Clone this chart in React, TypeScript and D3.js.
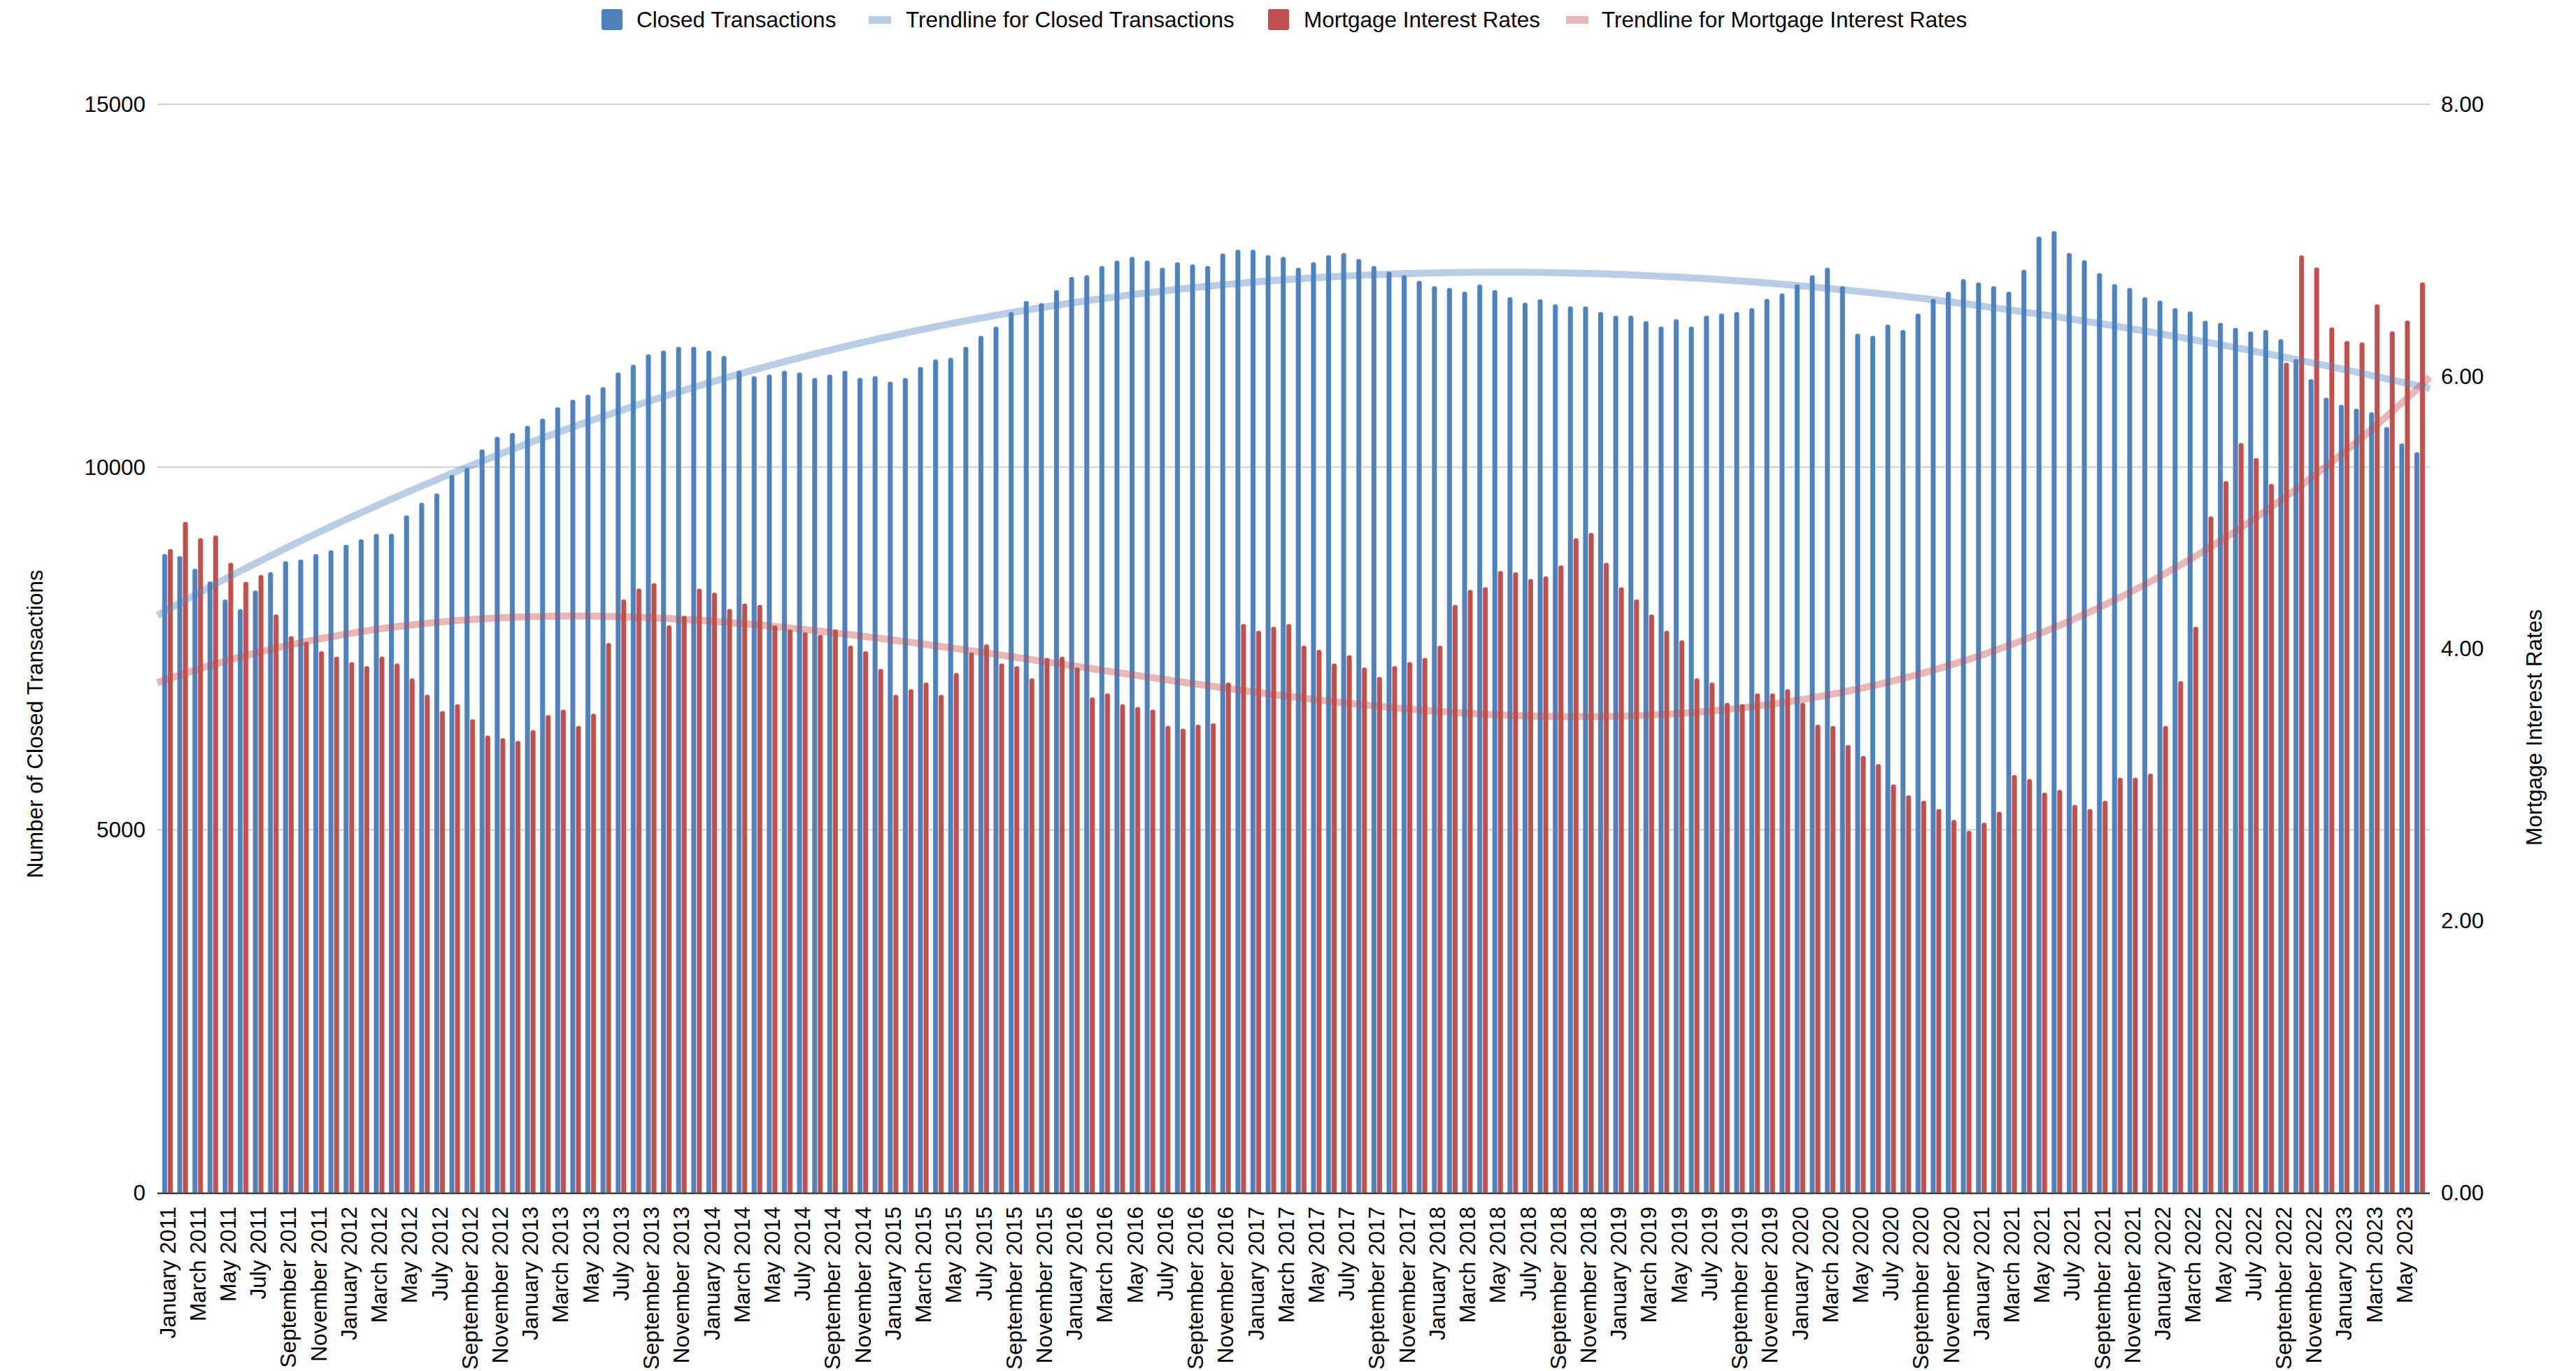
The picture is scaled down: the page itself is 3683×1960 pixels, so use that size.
import React from "react";
import * as d3 from "d3";

// ---------- DATA ----------
const months: string[] = d3
  .timeMonths(new Date(2011, 0, 1), new Date(2023, 6, 1))
  .map((d) => d3.timeFormat("%B %Y")(d));

const closedTransactions: number[] = [
  8801, 8772, 8598, 8424, 8175, 8042, 8297, 8551, 8702, 8725, 8801, 8853,
  8928, 9003, 9079, 9079, 9334, 9508, 9635, 9890, 9988, 10243, 10417, 10469,
  10568, 10666, 10823, 10927, 10997, 11101, 11304, 11408, 11553, 11605, 11657, 11657,
  11605, 11530, 11327, 11252, 11275, 11327, 11304, 11228, 11275, 11327, 11228, 11252,
  11176, 11228, 11379, 11483, 11506, 11657, 11808, 11935, 12138, 12289, 12260, 12439,
  12619, 12642, 12770, 12845, 12897, 12845, 12746, 12822, 12793, 12770, 12943, 12995,
  12995, 12920, 12897, 12746, 12822, 12920, 12949, 12868, 12770, 12694, 12642, 12567,
  12491, 12468, 12416, 12515, 12439, 12341, 12265, 12312, 12242, 12213, 12213, 12138,
  12086, 12086, 12011, 11935, 12039, 11935, 12086, 12115, 12138, 12190, 12318, 12393,
  12515, 12642, 12746, 12491, 11837, 11808, 11964, 11889, 12115, 12318, 12416, 12590,
  12544, 12491, 12416, 12717, 13175, 13250, 12949, 12851, 12671, 12520, 12468, 12341,
  12294, 12190, 12144, 12016, 11987, 11918, 11866, 11889, 11761, 11489, 11211, 10956,
  10858, 10805, 10753, 10550, 10324, 10203,
];

const mortgageRates: number[] = [
  4.73, 4.93, 4.81, 4.83, 4.63, 4.49, 4.54, 4.25, 4.09, 4.05, 3.98, 3.94,
  3.9, 3.87, 3.94, 3.89, 3.78, 3.66, 3.54, 3.59, 3.48, 3.36, 3.34, 3.32,
  3.4, 3.51, 3.55, 3.43, 3.52, 4.04, 4.36, 4.44, 4.48, 4.17, 4.24, 4.44,
  4.41, 4.29, 4.33, 4.32, 4.17, 4.14, 4.12, 4.1, 4.14, 4.02, 3.98, 3.85,
  3.66, 3.7, 3.75, 3.66, 3.82, 3.97, 4.03, 3.89, 3.87, 3.78, 3.93, 3.94,
  3.86, 3.64, 3.67, 3.59, 3.57, 3.55, 3.43, 3.41, 3.44, 3.45, 3.75, 4.18,
  4.13, 4.16, 4.18, 4.02, 3.99, 3.89, 3.95, 3.86, 3.79, 3.87, 3.9, 3.93,
  4.02, 4.32, 4.43, 4.45, 4.57, 4.56, 4.51, 4.53, 4.61, 4.81, 4.85, 4.63,
  4.45, 4.36, 4.25, 4.13, 4.06, 3.78, 3.75, 3.6, 3.59, 3.67, 3.67, 3.7,
  3.6, 3.44, 3.43, 3.29, 3.21, 3.15, 3.0, 2.92, 2.88, 2.82, 2.74, 2.66,
  2.72, 2.8, 3.07, 3.04, 2.94, 2.96, 2.85, 2.82, 2.88, 3.05, 3.05, 3.08,
  3.43, 3.76, 4.16, 4.97, 5.23, 5.51, 5.4, 5.21, 6.1, 6.89, 6.8, 6.36,
  6.26, 6.25, 6.53, 6.33, 6.41, 6.69,
];

const leftTicks: number[] = [0, 5000, 10000, 15000];
const rightTicks: number[] = [0, 2, 4, 6, 8];

const legendItems = [
  { label: "Closed Transactions", kind: "bar", color: "#4F81BD" },
  { label: "Trendline for Closed Transactions", kind: "trend", color: "#4F81BD" },
  { label: "Mortgage Interest Rates", kind: "bar", color: "#C0504D" },
  { label: "Trendline for Mortgage Interest Rates", kind: "trend", color: "#C0504D" },
];

// ---------- HELPERS ----------
function polyfit(ys: number[], order: number) {
  const n = ys.length;
  const c = (n - 1) / 2;
  const m = order + 1;
  const A: number[][] = Array.from({ length: m }, () => new Array(m + 1).fill(0));
  for (let i = 0; i < n; i++) {
    const t = (i - c) / c;
    const pw: number[] = [];
    for (let k = 0; k < 2 * m; k++) pw.push(Math.pow(t, k));
    for (let r = 0; r < m; r++) {
      for (let s = 0; s < m; s++) A[r][s] += pw[r + s];
      A[r][m] += pw[r] * ys[i];
    }
  }
  for (let col = 0; col < m; col++) {
    let piv = col;
    for (let r = col + 1; r < m; r++)
      if (Math.abs(A[r][col]) > Math.abs(A[piv][col])) piv = r;
    const tmp = A[col];
    A[col] = A[piv];
    A[piv] = tmp;
    for (let r = 0; r < m; r++) {
      if (r === col) continue;
      const f = A[r][col] / A[col][col];
      for (let s = col; s <= m; s++) A[r][s] -= f * A[col][s];
    }
  }
  const coef = A.map((row, r) => row[m] / row[r]);
  return (i: number) => {
    const t = (i - c) / c;
    let v = 0;
    for (let k = 0; k < m; k++) v += coef[k] * Math.pow(t, k);
    return v;
  };
}

function topRoundedBar(x: number, y: number, w: number, h: number, r: number) {
  const rr = Math.min(r, w / 2, h);
  return `M${x},${y + h}V${y + rr}Q${x},${y} ${x + rr},${y}H${x + w - rr}Q${x + w},${y} ${x + w},${y + rr}V${y + h}Z`;
}

// ---------- CHART ----------
const W = 3683;
const H = 1960;
const plotLeft = 225;
const plotRight = 3474;
const plotTop = 149;
const plotBottom = 1705;
const FONT = "'Liberation Sans', Arial, Helvetica, sans-serif";
const FS = 31.5;

export default function App() {
  const n = months.length;
  const xBand = d3
    .scaleBand<number>()
    .domain(d3.range(n))
    .range([plotLeft, plotRight])
    .paddingInner(0)
    .paddingOuter(0.17);
  const cx = (i: number) => (xBand(i) as number) + xBand.bandwidth() / 2;
  const idxToX = d3.scaleLinear().domain([0, n - 1]).range([cx(0), cx(n - 1)]);

  const yLeft = d3.scaleLinear().domain([0, 15000]).range([plotBottom, plotTop]);
  const yRight = d3.scaleLinear().domain([0, 8]).range([plotBottom, plotTop]);

  const fitBlue = polyfit(closedTransactions, 3);
  const fitRed = polyfit(mortgageRates, 3);
  const iStart = idxToX.invert(plotLeft);
  const iEnd = idxToX.invert(plotRight);
  const samples = d3.range(iStart, iEnd, 0.25).concat([iEnd]);

  const blueTrend = d3
    .line<number>()
    .x((i) => idxToX(i))
    .y((i) => yLeft(fitBlue(i)))(samples);
  const redTrend = d3
    .line<number>()
    .x((i) => idxToX(i))
    .y((i) => yRight(fitRed(i)))(samples);

  const barW = 7.2;
  const gap = 0.4;

  const legendSwatchX = [860, 1242, 1813, 2239];
  const legendTextX = [910, 1295, 1864, 2290];

  return (
    <div style={{ position: "absolute", left: 0, top: 0, width: W, height: H, background: "#fff" }}>
      <svg width={W} height={H} viewBox={`0 0 ${W} ${H}`} style={{ display: "block" }} fontFamily={FONT}>
        <rect x={0} y={0} width={W} height={H} fill="#ffffff" />

        {/* gridlines */}
        {leftTicks
          .filter((t) => t > 0)
          .map((t) => (
            <line
              key={`g${t}`}
              x1={plotLeft}
              x2={plotRight}
              y1={yLeft(t)}
              y2={yLeft(t)}
              stroke="#cfcfcf"
              strokeWidth={2}
            />
          ))}

        {/* bars */}
        <g>
          {closedTransactions.map((v, i) => {
            const x = cx(i) - gap - barW;
            const y = yLeft(v);
            return (
              <path
                key={`b${i}`}
                d={topRoundedBar(x, y, barW, plotBottom - y, 3)}
                fill="#4F81BD"
                stroke="#c9d8ec"
                strokeOpacity={0.5}
                strokeWidth={0.8}
              />
            );
          })}
          {mortgageRates.map((v, i) => {
            const x = cx(i) + gap;
            const y = yRight(v);
            return (
              <path
                key={`r${i}`}
                d={topRoundedBar(x, y, barW, plotBottom - y, 3)}
                fill="#C0504D"
                stroke="#ecc9c8"
                strokeOpacity={0.5}
                strokeWidth={0.8}
              />
            );
          })}
        </g>

        {/* trendlines */}
        <path d={blueTrend ?? ""} fill="none" stroke="#4F81BD" strokeOpacity={0.4} strokeWidth={10} />
        <path d={redTrend ?? ""} fill="none" stroke="#C0504D" strokeOpacity={0.4} strokeWidth={10} />

        {/* baseline */}
        <line x1={plotLeft} x2={plotRight} y1={plotBottom + 1} y2={plotBottom + 1} stroke="#3c3c3c" strokeWidth={2.5} />

        {/* left ticks */}
        {leftTicks.map((t) => (
          <text key={`lt${t}`} x={208} y={yLeft(t)} dy="0.35em" textAnchor="end" fontSize={FS} fill="#000">
            {t}
          </text>
        ))}
        {/* right ticks */}
        {rightTicks.map((t) => (
          <text key={`rt${t}`} x={3490} y={yRight(t)} dy="0.35em" textAnchor="start" fontSize={FS} fill="#000">
            {d3.format(".2f")(t)}
          </text>
        ))}

        {/* x labels */}
        {months.map((m, i) =>
          i % 2 === 0 ? (
            <text
              key={`x${i}`}
              transform={`translate(${cx(i)},${1725}) rotate(-90)`}
              dy="0.35em"
              textAnchor="end"
              fontSize={FS}
              fill="#000"
            >
              {m}
            </text>
          ) : null
        )}

        {/* axis titles */}
        <text transform={`translate(50,1035) rotate(-90)`} dy="0.35em" textAnchor="middle" fontSize={FS} fill="#000">
          Number of Closed Transactions
        </text>
        <text transform={`translate(3623,1040) rotate(-90)`} dy="0.35em" textAnchor="middle" fontSize={FS} fill="#000">
          Mortgage Interest Rates
        </text>

        {/* legend */}
        {legendItems.map((it, k) => (
          <g key={`lg${k}`}>
            {it.kind === "bar" ? (
              <rect x={legendSwatchX[k]} y={13} width={30} height={30} rx={3} fill={it.color} />
            ) : (
              <rect x={legendSwatchX[k]} y={23} width={32} height={11} fill={it.color} fillOpacity={0.4} />
            )}
            <text x={legendTextX[k]} y={38.5} fontSize={FS} fill="#000">
              {it.label}
            </text>
          </g>
        ))}
      </svg>
    </div>
  );
}
